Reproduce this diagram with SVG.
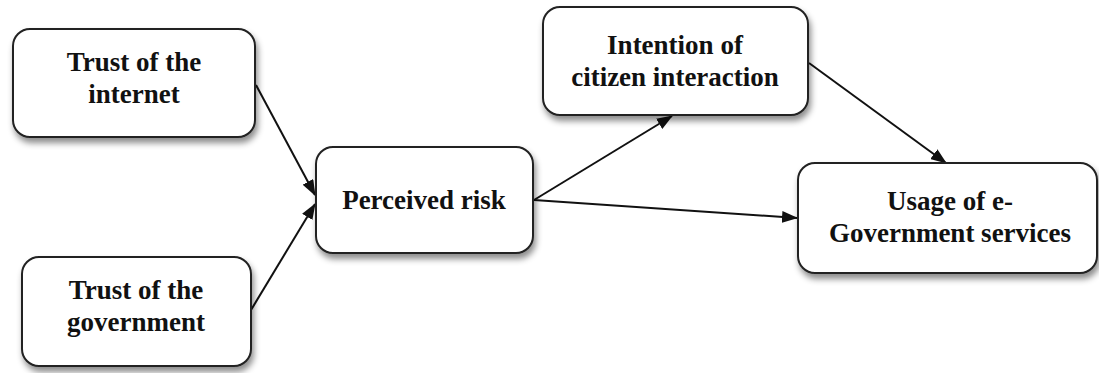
<svg xmlns="http://www.w3.org/2000/svg" width="1099" height="373" viewBox="0 0 1099 373">
<style>
.box{fill:#fff;stroke:#222;stroke-width:2;filter:url(#sh)}
.lbl{font-family:"Liberation Serif","Times New Roman",serif;font-weight:bold;font-size:27px;fill:#111;text-anchor:middle}
.con{stroke:#111;stroke-width:2;fill:none;marker-end:url(#ah)}
</style>
<defs>
<filter id="sh" x="-10%" y="-10%" width="130%" height="140%">
<feDropShadow dx="2" dy="5" stdDeviation="3" flood-color="#000" flood-opacity="0.45"/>
</filter>
<marker id="ah" markerUnits="userSpaceOnUse" markerWidth="16" markerHeight="12" refX="15" refY="6" orient="auto">
<path d="M0,0 L16,6 L0,12 Z" fill="#111"/>
</marker>
</defs>
<rect width="1099" height="373" fill="#fff"/>
<g id="connectors">
<line class="con" x1="256" y1="85" x2="315" y2="195"/>
<line class="con" x1="251" y1="310" x2="315" y2="204"/>
<line class="con" x1="534" y1="200" x2="672" y2="116"/>
<line class="con" x1="534" y1="200" x2="797" y2="218"/>
<line class="con" x1="809" y1="63" x2="946" y2="163"/>
</g>
<g id="n1">
<rect class="box" x="13" y="29" width="242" height="108" rx="17"/>
<text class="lbl" x="134" y="71">Trust of the</text>
<text class="lbl" x="134" y="103">internet</text>
</g>
<g id="n2">
<rect class="box" x="22" y="257" width="229" height="109" rx="17"/>
<text class="lbl" x="136" y="299">Trust of the</text>
<text class="lbl" x="136" y="331">government</text>
</g>
<g id="n3">
<rect class="box" x="316" y="147" width="217" height="106" rx="17"/>
<text class="lbl" x="424" y="209">Perceived risk</text>
</g>
<g id="n4">
<rect class="box" x="543" y="7" width="265" height="108" rx="17"/>
<text class="lbl" x="675" y="54">Intention of</text>
<text class="lbl" x="675" y="86">citizen interaction</text>
</g>
<g id="n5">
<rect class="box" x="798" y="163" width="299" height="110" rx="17"/>
<text class="lbl" x="950" y="210">Usage of e-</text>
<text class="lbl" x="950" y="242">Government services</text>
</g>
</svg>
